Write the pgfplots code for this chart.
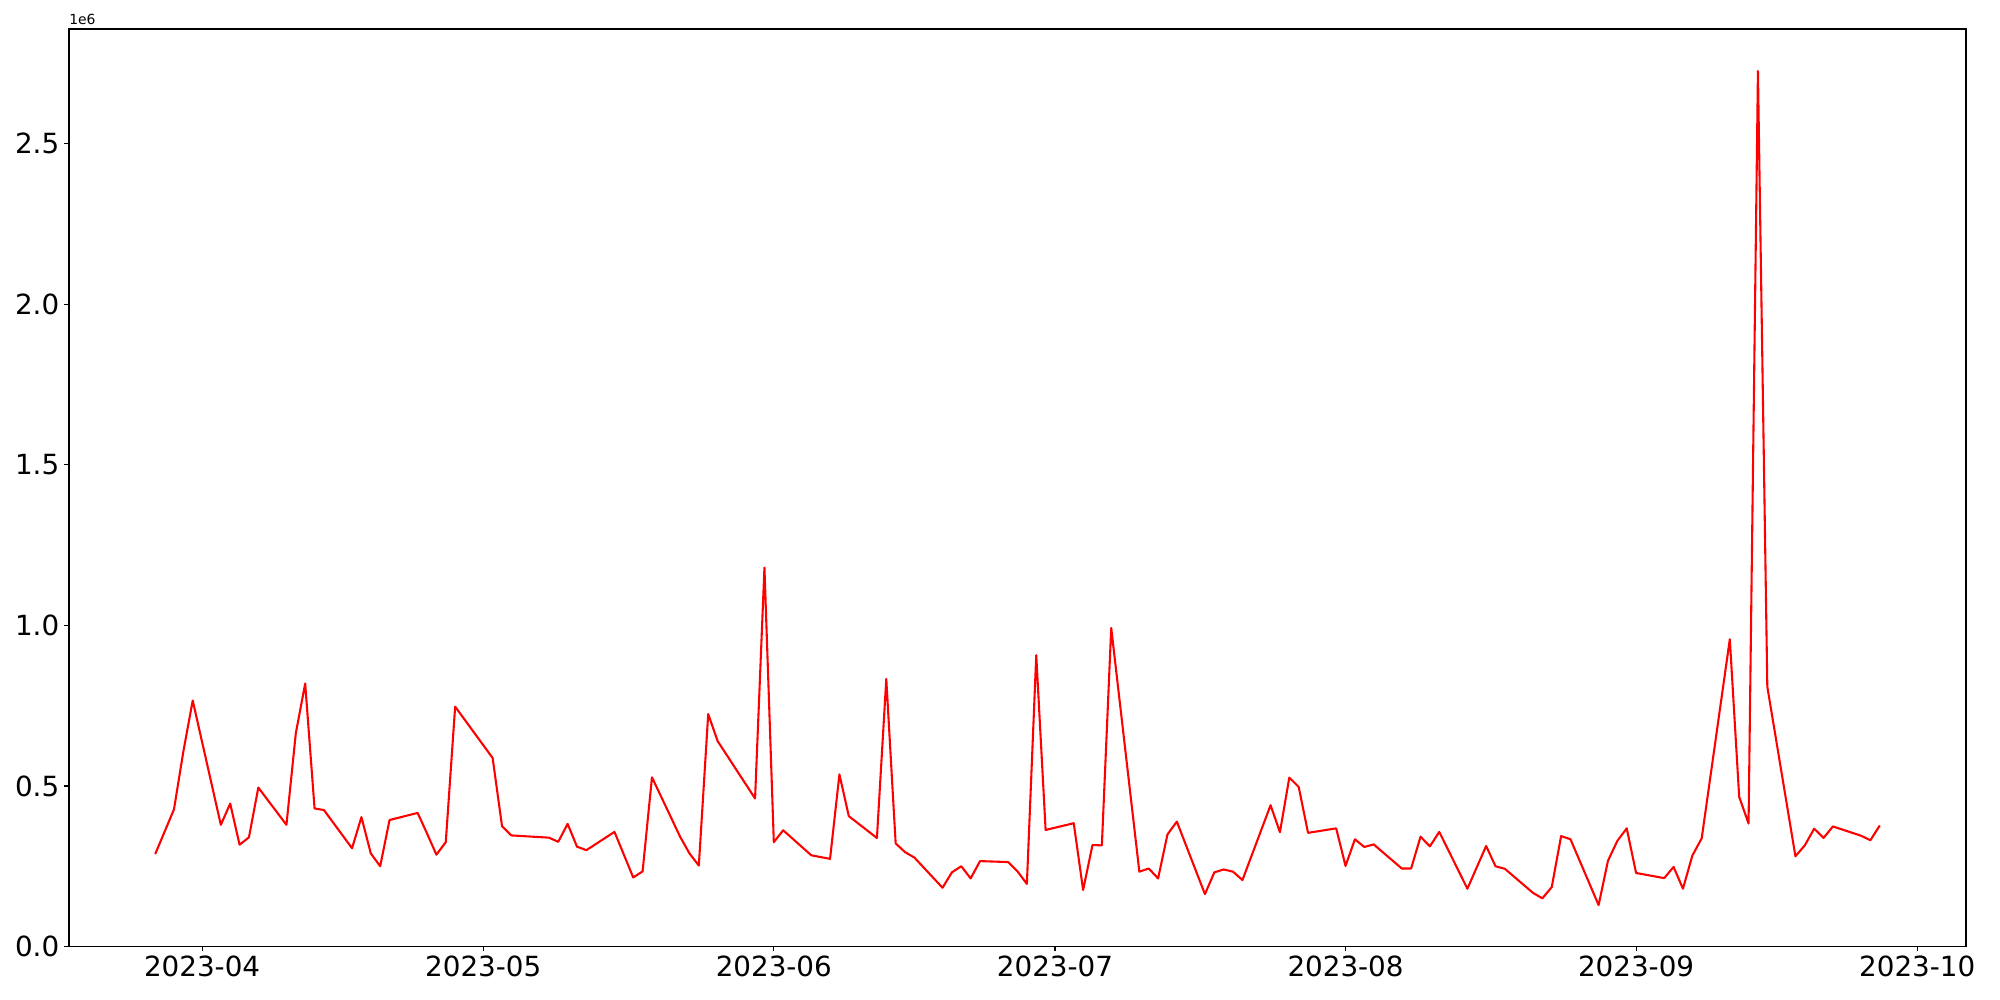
\documentclass[border=0pt]{standalone}
\usepackage{pgfplots}
\pgfplotsset{compat=1.18}
\usepackage{fontspec}
\setmainfont{DejaVu Sans}
\begin{document}
\begin{tikzpicture}
\begin{axis}[
  at={(0,0)}, anchor=south west,
  scale only axis,
  width=1365.84pt, height=660.6pt,
  xmin=-14.2, xmax=188.2,
  ymin=0, ymax=2.857,
  axis line style={line width=0.8pt},
  tick align=outside,
  major tick length=3.5pt,
  tick style={line width=0.8pt, black},
  xtick pos=bottom, ytick pos=left,
  xtick={0,30,61,91,122,153,183},
  xticklabels={2023-04,2023-05,2023-06,2023-07,2023-08,2023-09,2023-10},
  ytick={0,0.5,1,1.5,2,2.5},
  yticklabels={0.0,0.5,1.0,1.5,2.0,2.5},
  ticklabel style={font=\fontsize{20}{24}\selectfont},
  clip=false,
]
\addplot[red, line width=1.5pt, line join=round] coordinates {
(-5,0.288) (-3,0.427) (-2,0.607) (-1,0.766)
(2,0.379) (3,0.445) (4,0.317) (5,0.340) (6,0.495)
(9,0.379) (10,0.664) (11,0.819) (12,0.430) (13,0.425)
(16,0.306) (17,0.403) (18,0.290) (19,0.250) (20,0.394)
(23,0.416) (24,0.352) (25,0.286) (26,0.325) (27,0.747)
(31,0.587) (32,0.375) (33,0.346)
(37,0.339) (38,0.326) (39,0.382) (40,0.311) (41,0.300)
(44,0.357) (46,0.215) (47,0.234) (48,0.527)
(51,0.342) (52,0.290) (53,0.252) (54,0.724) (55,0.640)
(59,0.461) (60,1.180) (61,0.325) (62,0.362)
(65,0.284) (67,0.273) (68,0.536) (69,0.406)
(72,0.338) (73,0.833) (74,0.321) (75,0.294) (76,0.277)
(79,0.183) (80,0.231) (81,0.250) (82,0.212) (83,0.266)
(86,0.263) (87,0.234) (88,0.195) (89,0.907) (90,0.363)
(93,0.384) (94,0.176) (95,0.316) (96,0.315) (97,0.992)
(100,0.233) (101,0.243) (102,0.212) (103,0.349) (104,0.389)
(107,0.163) (108,0.231) (109,0.240) (110,0.233) (111,0.207)
(114,0.440) (115,0.356) (116,0.526) (117,0.497) (118,0.354)
(121,0.368) (122,0.251) (123,0.334) (124,0.310) (125,0.318)
(128,0.243) (129,0.243) (130,0.342) (131,0.312) (132,0.357)
(135,0.180) (137,0.313) (138,0.250) (139,0.242)
(142,0.167) (143,0.150) (144,0.185) (145,0.344) (146,0.334)
(149,0.129) (150,0.267) (151,0.329) (152,0.368) (153,0.229)
(156,0.213) (157,0.248) (158,0.180) (159,0.283) (160,0.337)
(163,0.957) (164,0.466) (165,0.383) (166,2.726) (167,0.809)
(170,0.281) (171,0.315) (172,0.367) (173,0.338) (174,0.374)
(177,0.345) (178,0.331) (179,0.377)
};
\node[anchor=south west, inner sep=0pt, font=\fontsize{10}{12}\selectfont] at (rel axis cs:0,1) [yshift=3pt] {1e6};
\end{axis}
\pgfresetboundingbox
\path (-49.68pt,-38.5pt) rectangle (1390.32pt,681.5pt);
\end{tikzpicture}
\end{document}
